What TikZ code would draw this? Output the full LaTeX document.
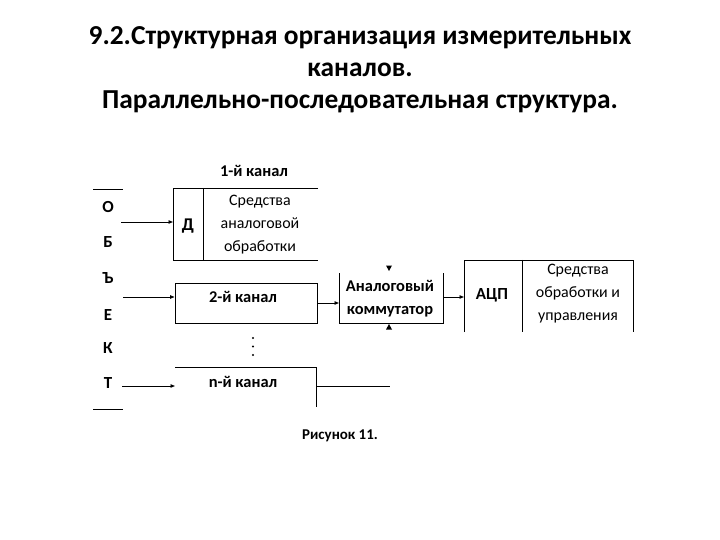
\documentclass[tikz,border=0pt]{standalone}
\usepackage{fontspec}
\setmainfont{Carlito}
\usetikzlibrary{arrows.meta, positioning}
\tikzset{
    frame/.style={draw, line width=0.9bp},
    wire/.style={line width=0.9bp, -{Triangle[length=4.5bp, width=3.5bp]}},
    letter/.style={font=\fontsize{17}{17}\selectfont\bfseries, inner sep=0pt},
    lbl/.style={font=\fontsize{16}{23}\selectfont, align=center, inner sep=0pt},
    boldlbl/.style={lbl, font=\fontsize{16.5}{23}\selectfont\bfseries},
    heading/.style={font=\fontsize{27.5}{32}\selectfont\bfseries, align=center, inner sep=0pt}
}

\begin{document}
\begin{tikzpicture}[x=1bp, y=-1bp]
    \useasboundingbox (0,0) rectangle (720,540);

    % Title
    \node[heading] (title) at (360,70) {9.2.Структурная организация измерительных\\каналов.\\Параллельно-последовательная структура.};

    % Object column
    \draw[frame] (93,189) -- (123,189);
    \draw[frame] (93,409) -- (123,409);
    \foreach \ch/\y [count=\i] in {О/207, Б/242, Ъ/278, Е/315, К/348, Т/383}
        \node[letter] (obj\i) at (108,\y) {\ch};

    % Channel 1
    \draw[frame] (318,188) -- (173,188) -- (173,260) -- (318,260);
    \draw[frame] (203,188) -- (203,260);
    \node[boldlbl] (chonelabel) at (254,171) {1-й канал};
    \node[boldlbl, font=\fontsize{18}{18}\selectfont\bfseries] (sensor) at (188,226) {Д};
    \node[lbl] (analog) at (260,225) {Средства\\аналоговой\\обработки};
    \coordinate (inone) at (121,222);
    \coordinate (chonein) at (173,222);
    \draw[wire] (inone) -- (chonein);

    % Channel 2
    \node[frame, minimum width=142bp, minimum height=40bp, inner sep=0pt] (chtwo) at (246,303) {};
    \node[boldlbl] (chtwolabel) at (243,297) {2-й канал};
    \coordinate (intwo) at (123,297);
    \draw[wire] (intwo) -- (chtwo.west |- intwo);

    % Dots between channels
    \foreach \y in {338, 346.5, 355}
        \fill (253,\y) circle (1.1bp);

    % Channel n
    \draw[frame] (175,367) -- (316,367) -- (316,407);
    \node[boldlbl] (chnlabel) at (243,382) {n-й канал};
    \coordinate (inn) at (122,386);
    \coordinate (chnin) at (175,386);
    \draw[wire] (inn) -- (chnin);
    \coordinate (chnout) at (316,386);
    \coordinate (chnend) at (390,386);
    \draw[frame] (chnout) -- (chnend);

    % Analog multiplexer
    \draw[frame] (339,273) -- (339,323) -- (443,323) -- (443,273);
    \node[boldlbl] (mux) at (390,298.5) {Аналоговый\\коммутатор};
    \coordinate (muxin) at (339,303);
    \coordinate (muxout) at (443,297);
    \draw[wire] (chtwo.east |- muxin) -- (muxin);
    \fill (386,265.5) -- (392,265.5) -- (389,271) -- cycle;
    \fill (386,329.5) -- (392,329.5) -- (389,324) -- cycle;

    % ADC and control
    \draw[frame] (464,332) -- (464,260) -- (633,260) -- (633,332);
    \draw[frame] (522,260) -- (522,332);
    \node[boldlbl, font=\fontsize{17}{17}\selectfont\bfseries] (adc) at (492,295) {АЦП};
    \node[lbl] (control) at (578,294) {Средства\\обработки и\\управления};
    \coordinate (adcin) at (464,297);
    \draw[wire] (muxout) -- (adcin);

    % Caption
    \node[boldlbl, font=\fontsize{15}{15}\selectfont\bfseries] (caption) at (340,436) {Рисунок 11.};
\end{tikzpicture}
\end{document}
